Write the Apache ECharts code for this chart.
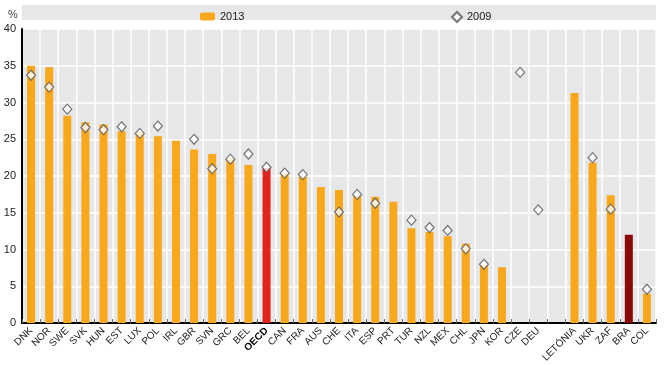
<!DOCTYPE html>
<html><head><meta charset="utf-8">
<script src="https://cdn.jsdelivr.net/npm/echarts@6/dist/echarts.min.js"></script>
<style>html,body{margin:0;padding:0;background:#fff}#c{width:670px;height:365px}</style>
</head><body><div id="c"></div>
<script>
var categories = ['DNK','NOR','SWE','SVK','HUN','EST','LUX','POL','IRL','GBR','SVN','GRC','BEL','OECD','CAN','FRA','AUS','CHE','ITA','ESP','PRT','TUR','NZL','MEX','CHL','JPN','KOR','CZE','DEU','','LETÓNIA','UKR','ZAF','BRA','COL'];
var values2013 = [35.0,34.8,28.2,27.3,27.0,26.1,26.0,25.4,24.8,23.6,23.0,22.4,21.5,21.1,20.3,19.9,18.5,18.1,17.3,17.2,16.5,12.9,12.4,11.8,10.8,7.9,7.6,null,null,null,31.3,21.8,17.4,12.0,4.0];
var values2009 = [33.7,32.1,29.1,26.6,26.3,26.7,25.8,26.8,null,25.0,21.0,22.3,23.0,21.2,20.4,20.2,null,15.1,17.5,16.3,null,14.0,13.0,12.6,10.1,8.0,null,34.1,15.4,null,null,22.5,15.5,null,4.6];
var yTicks = [0,5,10,15,20,25,30,35,40];

var ORANGE = '#F9A71B', RED = '#E2231A', DARKRED = '#8B0A06';
var FONT = '"Liberation Sans Narrow","Arial Narrow","Liberation Sans",Arial,sans-serif';

var barData = values2013.map(function(v, i){
  var c = categories[i];
  if (c === 'OECD') return {value: v, itemStyle: {color: RED}};
  if (c === 'BRA') return {value: v, itemStyle: {color: DARKRED}};
  return v;
});

var chart = echarts.init(document.getElementById('c'), null, {renderer: 'canvas'});
chart.setOption({
  animation: false,
  textStyle: {fontFamily: FONT},
  graphic: [
    {type: 'rect', shape: {x: 22, y: 5, width: 634, height: 15}, style: {fill: '#E6E7E8'}, z: -1},
    {type: 'text', left: 8, top: 9, style: {text: '%', font: '11px ' + FONT, fill: '#444'}}
  ],
  legend: [
    {data: ['2013'], left: 195, top: 6, itemWidth: 15, itemHeight: 8, itemGap: 6,
     textStyle: {fontSize: 11, color: '#222', fontFamily: FONT}},
    {data: ['2009'], left: 446, top: 6, itemWidth: 10, itemHeight: 10,
     textStyle: {fontSize: 11, color: '#222', fontFamily: FONT}}
  ],
  grid: {left: 22, right: 14, top: 29, bottom: 38, show: true, backgroundColor: '#E6E7E8', borderWidth: 0},
  xAxis: {
    type: 'category', data: categories,
    axisLine: {lineStyle: {color: '#000', width: 2}},
    axisTick: {show: true, inside: true, interval: 0, length: 4, lineStyle: {color: '#666'}},
    splitLine: {show: true, interval: 0, lineStyle: {color: '#fff', width: 1.5}},
    axisLabel: {interval: 0, rotate: 45, fontSize: 10, color: '#222', margin: 6, fontFamily: FONT,
      formatter: function(v){ return v === 'OECD' ? '{b|' + v + '}' : v; },
      rich: {b: {fontWeight: 'bold', fontSize: 10, color: '#000', fontFamily: FONT}}}
  },
  yAxis: {
    type: 'value', min: 0, max: 40, interval: 5,
    axisLine: {show: true, lineStyle: {color: '#000', width: 2}},
    axisTick: {show: false},
    splitLine: {lineStyle: {color: '#fff', width: 1.5}},
    axisLabel: {fontSize: 11, color: '#222', margin: 6, fontFamily: FONT,
      formatter: function(v){ return yTicks.indexOf(v) >= 0 ? String(v) : ''; }}
  },
  series: [
    {name: '2013', type: 'bar', data: barData, barWidth: 8, itemStyle: {color: ORANGE}},
    {name: '2009', type: 'scatter', data: values2009, symbol: 'diamond', symbolSize: [9, 10],
     itemStyle: {color: '#fff', borderColor: '#555', borderWidth: 1.2}, z: 3}
  ]
});
</script></body></html>
